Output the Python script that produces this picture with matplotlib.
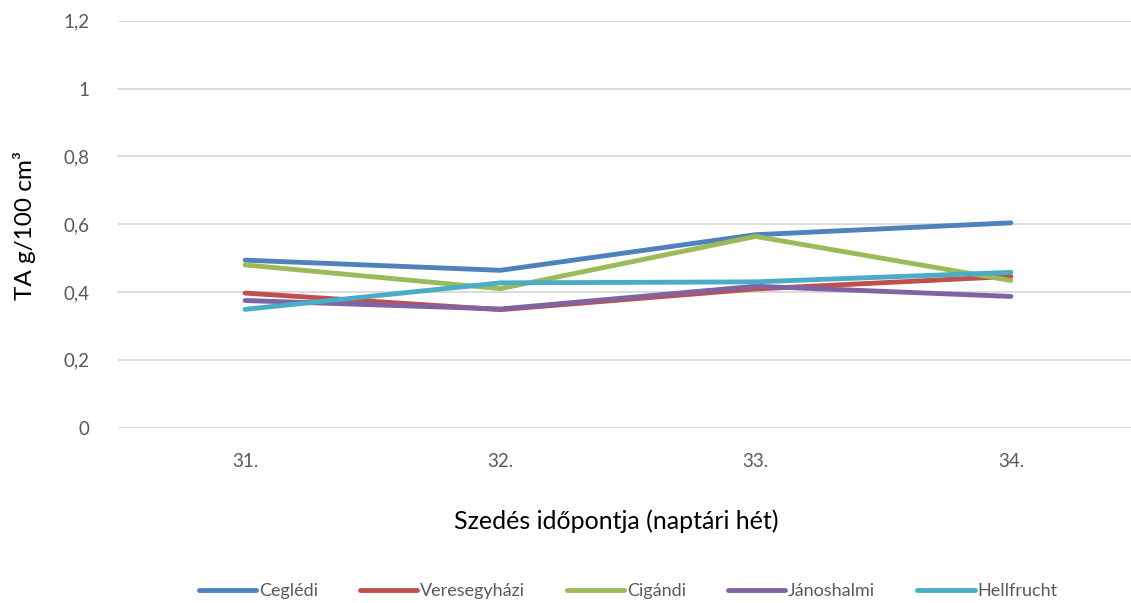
import matplotlib
matplotlib.use("Agg")
import matplotlib.pyplot as plt
from matplotlib.ticker import FuncFormatter

weeks = ["31.", "32.", "33.", "34."]
series_names = ["Ceglédi", "Veresegyházi", "Cigándi", "Jánoshalmi", "Hellfrucht"]
cegledi = [0.494, 0.464, 0.569, 0.604]
veresegyhazi = [0.397, 0.348, 0.409, 0.446]
cigandi = [0.480, 0.410, 0.564, 0.434]
janoshalmi = [0.375, 0.350, 0.417, 0.387]
hellfrucht = [0.349, 0.427, 0.430, 0.458]
yticks = [0, 0.2, 0.4, 0.6, 0.8, 1.0, 1.2]

colors = ["#4F81BD", "#C0504D", "#9BBB59", "#8064A2", "#4BACC6"]
values = [cegledi, veresegyhazi, cigandi, janoshalmi, hellfrucht]

plt.rcParams['font.family'] = ['Lato', 'DejaVu Sans']

fig = plt.figure(figsize=(11.31, 6.03), dpi=100)
ax = fig.add_axes([117.5/1131, (603-427.7)/603, 1021/1131, 407/603])

x = list(range(len(weeks)))
for name, vals, c in zip(series_names, values, colors):
    ax.plot(x, vals, color=c, lw=3.5, label=name, solid_capstyle='round', solid_joinstyle='round', zorder=3)

ax.set_xlim(-0.5, 3.5)
ax.set_ylim(0, 1.2)
ax.set_yticks(yticks)
ax.yaxis.set_major_formatter(FuncFormatter(lambda v, p: ("%g" % v).replace(".", ",")))
ax.set_xticks(x)
ax.set_xticklabels(weeks)
ax.grid(axis='y', color='#D9D9D9', lw=1.3, zorder=0)
for s in ax.spines.values():
    s.set_visible(False)
ax.tick_params(axis='both', length=0, labelsize=13.5, labelcolor='#595959')
ax.tick_params(axis='y', pad=20)
ax.tick_params(axis='x', pad=18)

fig.text(25/1131, 1 - 225/603, "TA g/100 cm³", fontsize=17.5, rotation=90, ha='center', va='center')
fig.text(616/1131, 1 - 521/603, "Szedés időpontja (naptári hét)", fontsize=18, ha='center', va='center')

leg = ax.legend(loc='center', bbox_to_anchor=(0.5, -(591-427.7)/407), ncol=5, frameon=False,
                fontsize=13, handlelength=3.2, handletextpad=0.15, columnspacing=2.3,
                labelcolor='#595959')

fig.savefig("out.png", dpi=100)
